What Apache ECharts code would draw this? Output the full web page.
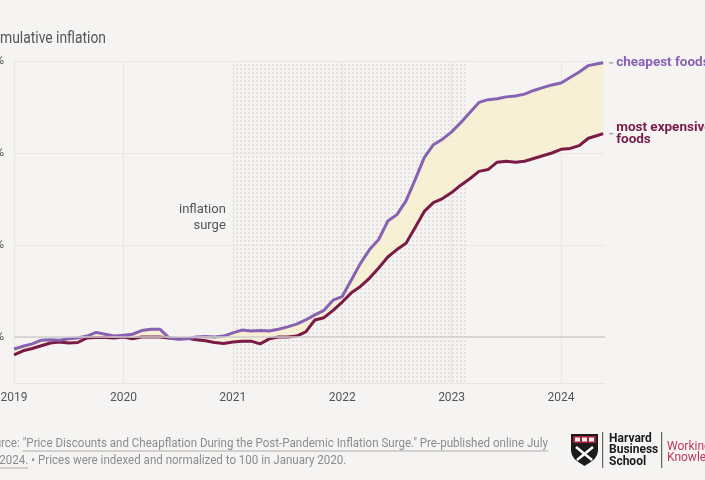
<!DOCTYPE html>
<html>
<head>
<meta charset="utf-8">
<script src="https://cdn.jsdelivr.net/npm/echarts@6/dist/echarts.min.js"></script>
<style>
html,body{margin:0;padding:0;background:#f5f4f2;}
#chart{width:705px;height:480px;}
</style>
</head>
<body>
<div id="chart"></div>
<script>
// ---- data ----
const dates = [
 '2019-01','2019-02','2019-03','2019-04','2019-05','2019-06','2019-07','2019-08','2019-09','2019-10','2019-11','2019-12',
 '2020-01','2020-02','2020-03','2020-04','2020-05','2020-06','2020-07','2020-08','2020-09','2020-10','2020-11','2020-12',
 '2021-01','2021-02','2021-03','2021-04','2021-05','2021-06','2021-07','2021-08','2021-09','2021-10','2021-11','2021-12',
 '2022-01','2022-02','2022-03','2022-04','2022-05','2022-06','2022-07','2022-08','2022-09','2022-10','2022-11','2022-12',
 '2023-01','2023-02','2023-03','2023-04','2023-05','2023-06','2023-07','2023-08','2023-09','2023-10','2023-11','2023-12',
 '2024-01','2024-02','2024-03','2024-04','2024-05','2024-05-20'
];
const cheapestFoods = [
 -1.3,-1.0,-0.75,-0.35,-0.3,-0.35,-0.2,-0.1,0.1,0.5,0.3,0.1,
 0.2,0.3,0.7,0.85,0.85,-0.1,-0.25,-0.2,0.0,0.05,0.0,0.1,
 0.45,0.75,0.65,0.7,0.65,0.85,1.1,1.4,1.85,2.4,2.9,4.0,
 4.4,6.2,8.0,9.5,10.6,12.6,13.3,14.8,17.1,19.5,20.9,21.5,
 22.3,23.3,24.4,25.5,25.8,25.9,26.1,26.2,26.4,26.8,27.1,27.4,
 27.6,28.2,28.8,29.5,29.7,29.8
];
const expensiveFoods = [
 -1.95,-1.5,-1.25,-0.95,-0.65,-0.55,-0.65,-0.6,-0.1,-0.05,-0.05,-0.1,
 0.0,-0.2,0.0,0.0,0.0,-0.1,-0.2,-0.15,-0.3,-0.4,-0.6,-0.7,
 -0.55,-0.45,-0.45,-0.75,-0.2,0.0,0.0,0.1,0.55,1.85,2.1,2.9,
 3.8,4.8,5.5,6.4,7.5,8.7,9.5,10.2,11.9,13.65,14.6,15.05,
 15.7,16.5,17.2,18.0,18.2,19.0,19.1,19.0,19.1,19.4,19.7,20.0,
 20.4,20.5,20.8,21.6,21.9,22.1
];
const yearTicks = [2019,2020,2021,2022,2023,2024];
const surgePeriod = ['2021-01','2023-02-25'];
const yTickLabels = [0,10,20,30];

// ---- helpers ----
function toYear(s){
  const p = s.split('-').map(Number);
  return p[0] + (p[1]-1)/12 + ((p[2]||1)-1)/365;
}
const xs = dates.map(toYear);
const expData = xs.map((x,i)=>[x, expensiveFoods[i]]);
const cheapData = xs.map((x,i)=>[x, cheapestFoods[i]]);
const last = xs.length-1;

const mc = document.createElement('canvas').getContext('2d');
function tw(t, font){ mc.font = font; return mc.measureText(t).width; }

const pc = document.createElement('canvas'); pc.width = 4; pc.height = 4;
const pctx = pc.getContext('2d');
pctx.fillStyle = '#e2e1de'; pctx.fillRect(0,0,2,2);

const FONT = 'Roboto, "Liberation Sans", sans-serif';
const PURPLE = '#8862b2', MAROON = '#7a1b47';

const titleFont = '16px Roboto';
const titleScale = 106 / tw('mulative inflation', titleFont);
const titleX = -tw('Cu', titleFont) * titleScale;

const srcFont = '12px Roboto';
const src1 = 'Source: "Price Discounts and Cheapflation During the Post-Pandemic Inflation Surge." Pre-published online July';
const src2a = '15, 2024.';
const src2b = ' \u2022 Prices were indexed and normalized to 100 in January 2020.';
const srcScale = (548 - 1) / (tw(src1, srcFont) - tw('Sou', srcFont));
const srcX = 1 - tw('Sou', srcFont) * srcScale;
const ulStart1 = tw('Source: ', srcFont);
const ulEnd1 = tw(src1, srcFont);
const ulEnd2 = tw(src2a, srcFont);

function renderBand(params, api){
  if (params.dataIndex !== 0) return;
  const pts = [];
  for (let i = 0; i < xs.length; i++) pts.push(api.coord([xs[i], cheapestFoods[i]]));
  for (let i = xs.length - 1; i >= 0; i--) pts.push(api.coord([xs[i], expensiveFoods[i]]));
  return {type: 'polygon', shape: {points: pts}, style: {fill: '#f8f0d2', opacity: 0.9}, silent: true};
}

const chart = echarts.init(document.getElementById('chart'));
chart.setOption({
  animation: false,
  backgroundColor: '#f5f4f2',
  grid: {left: 14, right: 100, top: 61, bottom: 97, containLabel: false, outerBoundsMode: 'none'},
  xAxis: {
    type: 'value', min: yearTicks[0], max: 2024.402, interval: 1,
    axisLine: {show: true, onZero: false, lineStyle: {color: '#e6e5e2', width: 1}},
    axisTick: {show: false},
    axisLabel: {
      margin: 9, color: '#555', fontFamily: FONT, fontSize: 12,
      showMaxLabel: false,
      formatter: v => yearTicks.includes(Math.round(v*1000)/1000) ? String(v) : ''
    },
    splitLine: {show: true, showMaxLine: false, lineStyle: {color: '#e8e7e4', width: 1}}
  },
  yAxis: {
    type: 'value', min: -5, max: 30, interval: 5,
    axisLine: {show: false}, axisTick: {show: false},
    axisLabel: {
      margin: 10, color: '#555', fontFamily: FONT, fontSize: 12,
      formatter: v => yTickLabels.includes(v) ? v + '%' : ''
    },
    splitLine: {show: true, lineStyle: {color: ['rgba(0,0,0,0)', '#e8e7e4'], width: 1}}
  },
  series: [
    {
      type: 'line', data: [], z: 1, silent: true,
      markArea: {
        silent: true,
        itemStyle: {color: {image: pc, repeat: 'repeat'}},
        label: {
          show: true, position: 'left', distance: 7, offset: [0, -4],
          formatter: 'inflation\nsurge', color: '#555', fontFamily: FONT,
          fontSize: 13, lineHeight: 16, align: 'right'
        },
        data: [[{xAxis: toYear(surgePeriod[0])}, {xAxis: toYear(surgePeriod[1])}]]
      },
      markLine: {
        silent: true, symbol: 'none', label: {show: false},
        lineStyle: {color: '#d0cfcc', width: 1.5, type: 'solid'},
        data: [{yAxis: 0}]
      }
    },
    {
      name: 'band', type: 'custom', z: 2, silent: true, clip: true,
      renderItem: renderBand,
      data: [[xs[0], cheapestFoods[0]]]
    },
    {
      name: 'most expensive foods', type: 'line', data: expData, z: 3,
      showSymbol: false, symbol: 'none',
      lineStyle: {color: MAROON, width: 3},
      itemStyle: {color: MAROON},
      endLabel: {
        show: true, distance: 13, formatter: 'most expensive\nfoods',
        color: MAROON, fontFamily: FONT, fontWeight: 'bold', fontSize: 13.5, lineHeight: 12, align: 'left'
      },
      markPoint: {
        silent: true, symbol: 'rect', symbolSize: [4, 1.5], symbolOffset: [8, 0],
        itemStyle: {color: '#a8a8a8'}, label: {show: false},
        data: [{coord: [xs[last], expensiveFoods[last]]}]
      }
    },
    {
      name: 'cheapest foods', type: 'line', data: cheapData, z: 4,
      showSymbol: false, symbol: 'none',
      lineStyle: {color: PURPLE, width: 3},
      itemStyle: {color: PURPLE},
      endLabel: {
        show: true, distance: 13, formatter: 'cheapest foods',
        color: PURPLE, fontFamily: FONT, fontWeight: 'bold', fontSize: 13.5
      },
      markPoint: {
        silent: true, symbol: 'rect', symbolSize: [4, 1.5], symbolOffset: [8, 0],
        itemStyle: {color: '#a8a8a8'}, label: {show: false},
        data: [{coord: [xs[last], cheapestFoods[last]]}]
      }
    }
  ],
  graphic: [
    {type: 'text', x: titleX, y: 39, scaleX: titleScale,
     style: {text: 'Cumulative inflation', font: titleFont, fill: '#555', verticalAlign: 'middle'}},
    {type: 'group', x: srcX, y: 0, scaleX: srcScale, children: [
      {type: 'text', x: 0, y: 444, style: {text: src1, font: srcFont, fill: '#8c8c8c', verticalAlign: 'middle'}},
      {type: 'text', x: 0, y: 461, style: {text: src2a + src2b, font: srcFont, fill: '#8c8c8c', verticalAlign: 'middle'}},
      {type: 'line', shape: {x1: ulStart1, y1: 451, x2: ulEnd1, y2: 451}, style: {stroke: '#9a9a9a', lineWidth: 0.8}},
      {type: 'line', shape: {x1: 0, y1: 468, x2: ulEnd2, y2: 468}, style: {stroke: '#9a9a9a', lineWidth: 0.8}}
    ]},
    {type: 'polygon', shape: {points: [[571,434],[598,434],[598,451],[597,455],[594.5,459],[590,462.5],[584.5,466],[579,462.5],[574.5,459],[572,455],[571,451]]}, style: {fill: '#1b1b1b'}},
    {type: 'rect', shape: {x: 573, y: 436, width: 23, height: 7}, style: {fill: '#a51f36'}},
    {type: 'rect', shape: {x: 575, y: 437.5, width: 5, height: 4}, style: {fill: '#eee'}},
    {type: 'rect', shape: {x: 582, y: 437.5, width: 5, height: 4}, style: {fill: '#eee'}},
    {type: 'rect', shape: {x: 589, y: 437.5, width: 5, height: 4}, style: {fill: '#eee'}},
    {type: 'line', shape: {x1: 576, y1: 447, x2: 592, y2: 460}, style: {stroke: '#fff', lineWidth: 2.5}},
    {type: 'line', shape: {x1: 593, y1: 447, x2: 577, y2: 460}, style: {stroke: '#fff', lineWidth: 2.5}},
    {type: 'line', shape: {x1: 602.7, y1: 432, x2: 602.7, y2: 468}, style: {stroke: '#444', lineWidth: 1}},
    {type: 'text', x: 609, y: 450, style: {text: 'Harvard\nBusiness\nSchool', font: 'bold 12px Roboto', fill: '#1b1b1b', lineHeight: 11.5, verticalAlign: 'middle'}},
    {type: 'line', shape: {x1: 661.7, y1: 432, x2: 661.7, y2: 468}, style: {stroke: '#444', lineWidth: 1}},
    {type: 'text', x: 667, y: 452, style: {text: 'Working\nKnowledge', font: '12px Roboto', fill: '#c0395b', lineHeight: 11, verticalAlign: 'middle'}}
  ]
});
</script>
</body>
</html>
